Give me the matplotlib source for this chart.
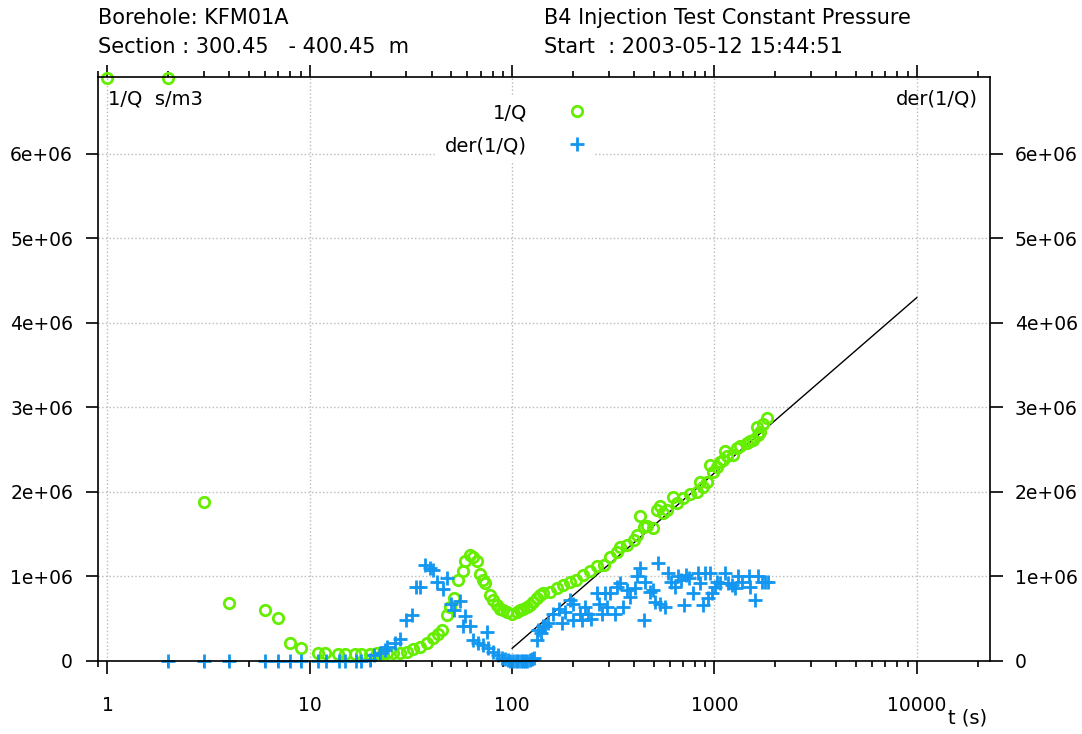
import matplotlib
matplotlib.use('Agg')
from matplotlib import pyplot as plt
from matplotlib.ticker import LogLocator, NullFormatter, FixedLocator
import numpy as np

plt.rcParams['font.family'] = ['DejaVu Sans']

# 1/Q  (s/m3) vs time (s); first two readings are off scale (shown at top)
t_q = [1, 2, 3, 4, 6, 7, 8, 9, 11.0, 11.9, 13.8, 14.9, 16.7, 17.9, 19.8, 21.4, 23.1, 24.0,
       25.9, 27.9, 30.1, 32.5, 35.1, 37.8, 40.8, 43.2, 44.9, 47.5, 49.3, 51.6, 54.2,
       57.0, 58.5, 61.9, 64.3, 66.8, 69.4, 72.1, 73.5, 77.8, 80.8, 83.9, 87.1, 90.5,
       94.0, 99.5, 105.4, 109.4, 113.6, 118.1, 122.5, 127.3, 132.4, 137.4, 142.6,
       153.9, 166, 179, 193, 208, 225, 243, 262, 283, 305, 329, 342, 369, 398, 413,
       429, 446, 463, 499, 519, 539, 559, 581, 627, 651, 702, 758, 818, 849, 882,
       916, 951, 988, 1026, 1066, 1107, 1128, 1150, 1241, 1288, 1339, 1445, 1500,
       1559, 1619, 1650, 1680, 1746, 1813]
inv_q = [6.9, 6.9, 1.88, 0.69, 0.60, 0.51, 0.21, 0.15, 0.09, 0.09, 0.08, 0.08, 0.08, 0.08,
         0.08, 0.09, 0.09, 0.09, 0.10, 0.10, 0.11, 0.14, 0.17, 0.21, 0.27, 0.32, 0.37,
         0.54, 0.64, 0.75, 0.96, 1.06, 1.18, 1.25, 1.23, 1.18, 1.03, 0.96, 0.92, 0.78,
         0.72, 0.66, 0.62, 0.60, 0.58, 0.56, 0.58, 0.60, 0.62, 0.64, 0.66, 0.70, 0.74,
         0.78, 0.80, 0.82, 0.86, 0.90, 0.94, 0.96, 1.02, 1.06, 1.12, 1.14, 1.23, 1.29,
         1.35, 1.37, 1.43, 1.49, 1.72, 1.59, 1.60, 1.57, 1.79, 1.83, 1.75, 1.79, 1.94,
         1.87, 1.93, 1.98, 2.00, 2.12, 2.06, 2.12, 2.32, 2.24, 2.30, 2.36, 2.38, 2.48,
         2.42, 2.44, 2.52, 2.54, 2.58, 2.60, 2.62, 2.77, 2.67, 2.71, 2.81, 2.87]

# derivative of 1/Q
t_d = [2, 3, 4, 6, 7, 8, 9, 11, 12, 14, 15, 17, 18, 19.8, 20.8, 22.2, 23.5, 24.0, 26.3,
       27.9, 29.8, 31.9, 33.5, 35.1, 37.1, 39.3, 40.8, 42.4, 45.4, 47.9, 49.8, 51.8,
       55.3, 57.0, 58.5, 61.9, 64.3, 68.1, 71.5, 74.9, 76.3, 80.8, 85.6, 89.1, 92, 95,
       98, 101, 104, 107, 110, 113, 116, 119, 122, 125, 128, 132.4, 134.8, 138.3,
       142.6, 145.5, 150.8, 160, 169.6, 176, 183, 193, 201, 201, 217, 221, 229, 238,
       246, 262, 268, 277, 287, 293, 305, 323, 329, 342, 355, 369, 382, 403, 413, 429,
       446, 454, 482, 499, 508, 527, 537, 568, 590, 612, 636, 659, 684, 710, 724, 752,
       780, 826, 849, 882, 896, 931, 951, 968, 1007, 1026, 1066, 1128, 1170, 1216,
       1263, 1312, 1363, 1474, 1500, 1589, 1650, 1714, 1780, 1845]
der_q = [0, 0, 0, 0, 0, 0, 0, 0, 0, 0, 0, 0, 0, 0.01, 0.07, 0.09, 0.13, 0.17, 0.21,
         0.26, 0.49, 0.54, 0.87, 0.87, 1.14, 1.10, 1.08, 0.94, 0.85, 0.98, 0.68, 0.60,
         0.71, 0.41, 0.53, 0.41, 0.25, 0.21, 0.19, 0.34, 0.15, 0.11, 0.07, 0.03, 0.02,
         0.01, 0.0, 0.0, 0.0, 0.0, 0.0, 0.0, 0.0, 0.0, 0.01, 0.02, 0.03, 0.25, 0.37, 0.33,
         0.41, 0.41, 0.45, 0.56, 0.62, 0.45, 0.58, 0.72, 0.68, 0.49, 0.56, 0.49, 0.64,
         0.56, 0.50, 0.80, 0.68, 0.56, 0.80, 0.64, 0.80, 0.56, 0.88, 0.92, 0.64, 0.84,
         0.76, 0.86, 1.00, 1.10, 0.49, 0.94, 0.82, 0.84, 0.70, 1.16, 0.68, 0.64, 1.04,
         0.94, 0.88, 1.00, 0.96, 0.66, 1.02, 0.98, 0.80, 1.04, 0.92, 0.66, 1.04, 0.74,
         1.04, 0.80, 0.88, 0.94, 0.92, 1.04, 0.92, 0.90, 0.86, 1.00, 0.94, 1.00, 0.88,
         0.72, 1.00, 0.94, 0.94, 0.94]

# straight-line fit
t_fit = [100, 10000]
fit_q = [0.15, 4.30]

inv_q = np.array(inv_q) * 1e6
der_q = np.array(der_q) * 1e6
fit_q = np.array(fit_q) * 1e6

green = '#66ee00'
blue = '#1296f0'

fig = plt.figure(figsize=(10.82, 7.34), dpi=100)
ax = fig.add_axes([98/1082, 1-661/734, (990-98)/1082, (661-77)/734])

ax.plot(t_fit, fit_q, color='black', lw=1)
ax.plot(t_q, inv_q, 'o', ms=7.5, mfc='none', mec=green, mew=2, label='1/Q', clip_on=False)
ax.plot(t_d, der_q, '+', ms=10, mec=blue, mew=2, label='der(1/Q)', clip_on=False)

ax.set_xscale('log')
ax.set_xlim(0.898, 23000)
ax.set_ylim(0, 6.91e6)

ax.xaxis.set_major_locator(FixedLocator([1, 10, 100, 1000, 10000]))
ax.xaxis.set_minor_locator(LogLocator(base=10, subs=np.arange(2, 10)))
ax.xaxis.set_minor_formatter(NullFormatter())
ax.set_xticklabels(['1', '10', '100', '1000', '10000'])
ax.set_yticks([0, 1e6, 2e6, 3e6, 4e6, 5e6, 6e6])
ylabs = ['0', '1e+06', '2e+06', '3e+06', '4e+06', '5e+06', '6e+06']
ax.set_yticklabels(ylabs)

ax.tick_params(which='both', direction='out', top=True, right=True, labelright=True,
               labelsize=13.5, width=1.2)
ax.tick_params(which='major', length=9)
ax.tick_params(which='minor', length=4)
ax.tick_params(axis='x', pad=16)
ax.tick_params(axis='y', pad=9)

ax.grid(True, which='major', color='#bbbbbb', ls=':', lw=1)
for s in ax.spines.values():
    s.set_linewidth(1.2)

leg = ax.legend(loc='upper right', bbox_to_anchor=(0.568, 0.985), markerfirst=False,
                frameon=True, fontsize=14, handlelength=1.0, handletextpad=2.1,
                labelspacing=0.72, borderpad=0.4, edgecolor='none', fancybox=False)
leg.get_frame().set_facecolor('white')
leg.get_frame().set_alpha(1)
for txt in leg.get_texts():
    txt.set_ha('right')

ax.text(0.011, 0.978, '1/Q  s/m3', transform=ax.transAxes, fontsize=14, va='top', ha='left')
ax.text(0.986, 0.978, 'der(1/Q)', transform=ax.transAxes, fontsize=14, va='top', ha='right')
fig.text(948/1082, 1-718/734, 't (s)', fontsize=14, va='center', ha='left')

fig.text(98/1082, 1-18/734, 'Borehole: KFM01A', fontsize=15, va='center')
fig.text(98/1082, 1-47/734, 'Section : 300.45   - 400.45  m', fontsize=15, va='center')
fig.text(544/1082, 1-18/734, 'B4 Injection Test Constant Pressure', fontsize=15, va='center')
fig.text(544/1082, 1-47/734, 'Start  : 2003-05-12 15:44:51', fontsize=15, va='center')

fig.savefig('out.png', dpi=100)
